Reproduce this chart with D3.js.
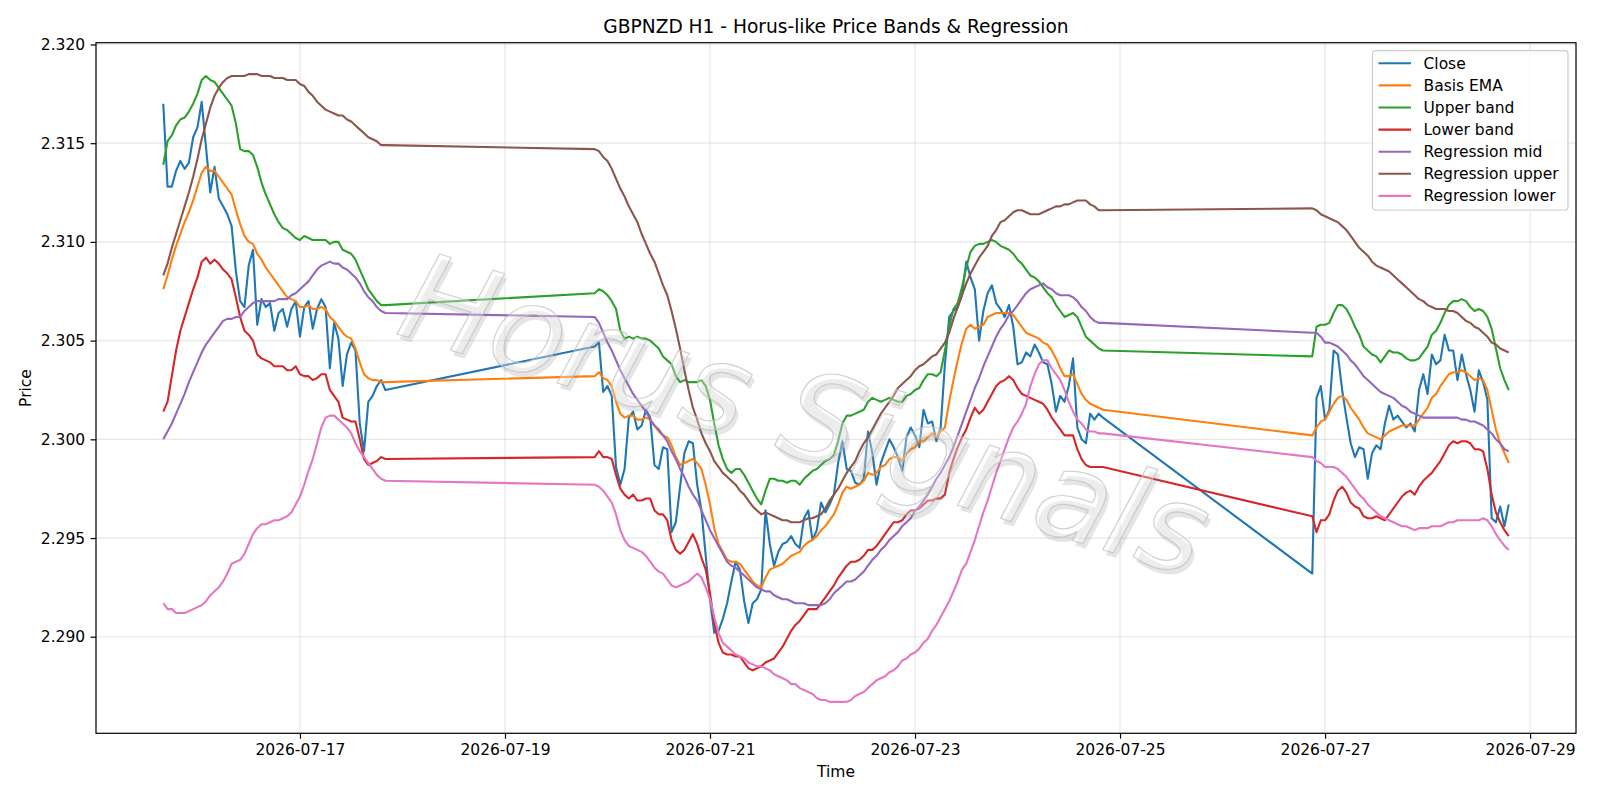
<!DOCTYPE html>
<html>
<head>
<meta charset="utf-8">
<script src="https://cdn.jsdelivr.net/npm/d3@7"></script>
<style>
  body { margin: 0; background: #fff; }
  text { font-family: "DejaVu Sans", sans-serif; }
</style>
</head>
<body>
<div id="my_dataviz"></div>
<script>
// hourly bars, three trading blocks (weekends are skipped)
var segStarts = ["2026-07-15T16:00:00Z", "2026-07-19T21:00:00Z", "2026-07-26T21:00:00Z"];
var segLengths = [53, 120, 47];

var closeVals = [
  2.3170, 2.3128, 2.3128, 2.3136, 2.3141, 2.3137, 2.3140, 2.3153, 2.3158, 2.3171,
  2.3148, 2.3125, 2.3138, 2.3122, 2.3118, 2.3114, 2.3108, 2.3085, 2.3070, 2.3067,
  2.3088, 2.3096, 2.3058, 2.3071, 2.3067, 2.3069, 2.3055, 2.3064, 2.3066, 2.3057,
  2.3066, 2.3070, 2.3052, 2.3067, 2.3070, 2.3056, 2.3066, 2.3071, 2.3067, 2.3036,
  2.3059, 2.3051, 2.3027, 2.3043, 2.3049, 2.3045, 2.3008, 2.2994, 2.3019, 2.3022,
  2.3027, 2.3030, 2.3025,
  2.3047, 2.3049, 2.3024, 2.3027, 2.3022, 2.2986, 2.2977, 2.2985, 2.3011, 2.3014,
  2.3005, 2.3007, 2.3015, 2.3011, 2.2987, 2.2985, 2.2996, 2.2995, 2.2953, 2.2958,
  2.2976, 2.2993, 2.2999, 2.2998, 2.2977, 2.2964, 2.2941, 2.2919, 2.2902, 2.2903,
  2.2909, 2.2917, 2.2928, 2.2938, 2.2934, 2.2918, 2.2907, 2.2917, 2.2919, 2.2924,
  2.2964, 2.2947, 2.2936, 2.2943, 2.2947, 2.2948, 2.2951, 2.2947, 2.2945, 2.2960,
  2.2964, 2.2949, 2.2954, 2.2968, 2.2963, 2.2967, 2.2972, 2.2988, 2.2999, 2.2985,
  2.2984, 2.2978, 2.2977, 2.2980, 2.3004, 2.2993, 2.2977, 2.2988, 2.2994, 2.3000,
  2.2996, 2.2991, 2.2984, 2.3001, 2.3006, 2.3002, 2.2996, 2.3015, 2.3008, 2.3009,
  2.2999, 2.3006, 2.3038, 2.3062, 2.3065, 2.3067, 2.3073, 2.3090, 2.3082, 2.3076,
  2.3050, 2.3065, 2.3074, 2.3078, 2.3069, 2.3066, 2.3062, 2.3068, 2.3057, 2.3038,
  2.3039, 2.3044, 2.3042, 2.3048, 2.3044, 2.3039, 2.3038, 2.3028, 2.3014, 2.3022,
  2.3019, 2.3027, 2.3041, 2.3006, 2.3000, 2.2998, 2.3013, 2.3010, 2.3013, 2.3011,
  2.2932, 2.3021, 2.3027, 2.3010, 2.3015, 2.3045, 2.3043, 2.3025, 2.3011, 2.2998,
  2.2991, 2.2996, 2.2995, 2.2980, 2.2993, 2.2997, 2.2995, 2.3008, 2.3017, 2.3010,
  2.3012, 2.3009, 2.3006, 2.3008, 2.3004, 2.3025, 2.3033, 2.3023, 2.3043, 2.3038,
  2.3040, 2.3053, 2.3045, 2.3045, 2.3030, 2.3043, 2.3033, 2.3025, 2.3014, 2.3035,
  2.3029, 2.3020, 2.2960, 2.2958, 2.2966, 2.2956, 2.2967
];

var basisEma = [
  2.3076, 2.3083, 2.3091, 2.3098, 2.3104, 2.3110, 2.3115, 2.3121, 2.3128, 2.3135,
  2.3138, 2.3136, 2.3136, 2.3133, 2.3130, 2.3127, 2.3124, 2.3116, 2.3109, 2.3103,
  2.3100, 2.3099, 2.3094, 2.3091, 2.3087, 2.3084, 2.3081, 2.3078, 2.3075, 2.3072,
  2.3071, 2.3070, 2.3067, 2.3067, 2.3068, 2.3066, 2.3066, 2.3067, 2.3066, 2.3062,
  2.3060, 2.3057, 2.3054, 2.3052, 2.3051, 2.3046, 2.3039, 2.3033, 2.3031, 2.3030,
  2.3030, 2.3029, 2.3029,
  2.3032, 2.3034, 2.3031, 2.3030, 2.3027, 2.3019, 2.3013, 2.3011, 2.3012, 2.3012,
  2.3010, 2.3010, 2.3011, 2.3010, 2.3007, 2.3004, 2.3002, 2.3001, 2.2997, 2.2991,
  2.2987, 2.2988, 2.2989, 2.2990, 2.2988, 2.2985, 2.2977, 2.2967, 2.2955, 2.2947,
  2.2943, 2.2939, 2.2938, 2.2938, 2.2937, 2.2934, 2.2931, 2.2928, 2.2926, 2.2925,
  2.2930, 2.2934, 2.2935, 2.2936, 2.2937, 2.2939, 2.2941, 2.2942, 2.2943, 2.2946,
  2.2948, 2.2949, 2.2951, 2.2954, 2.2956, 2.2959, 2.2962, 2.2967, 2.2973, 2.2976,
  2.2975, 2.2976, 2.2977, 2.2979, 2.2983, 2.2982, 2.2983, 2.2986, 2.2987, 2.2990,
  2.2991, 2.2991, 2.2989, 2.2993, 2.2995, 2.2996, 2.2999, 2.2999, 2.3001, 2.3003,
  2.3001, 2.3004, 2.3006, 2.3019, 2.3030, 2.3040, 2.3049, 2.3056, 2.3058, 2.3056,
  2.3057, 2.3058, 2.3062, 2.3063, 2.3064, 2.3064, 2.3064, 2.3064, 2.3063, 2.3060,
  2.3057, 2.3054, 2.3053, 2.3052, 2.3051, 2.3049, 2.3048, 2.3045, 2.3041, 2.3036,
  2.3032, 2.3032, 2.3033, 2.3028, 2.3023, 2.3020, 2.3018, 2.3017, 2.3016, 2.3015,
  2.3002, 2.3006, 2.3009, 2.3010, 2.3014, 2.3018, 2.3021, 2.3022, 2.3020, 2.3016,
  2.3013, 2.3010, 2.3006, 2.3003, 2.3002, 2.3001, 2.3000, 2.3002, 2.3004, 2.3005,
  2.3006, 2.3007, 2.3007, 2.3007, 2.3007, 2.3010, 2.3013, 2.3016, 2.3021, 2.3023,
  2.3027, 2.3030, 2.3033, 2.3034, 2.3034, 2.3035, 2.3034, 2.3032, 2.3030, 2.3031,
  2.3030, 2.3025, 2.3015, 2.3005, 2.2998, 2.2993, 2.2988
];

var upperBand = [
  2.3139, 2.3151, 2.3154, 2.3159, 2.3162, 2.3163, 2.3166, 2.3170, 2.3175, 2.3182,
  2.3184, 2.3182, 2.3181, 2.3178, 2.3175, 2.3172, 2.3169, 2.3160, 2.3147, 2.3146,
  2.3146, 2.3144, 2.3138, 2.3130, 2.3124, 2.3119, 2.3114, 2.3110, 2.3107, 2.3106,
  2.3104, 2.3102, 2.3101, 2.3103, 2.3102, 2.3101, 2.3101, 2.3101, 2.3101, 2.3099,
  2.3100, 2.3100, 2.3096, 2.3095, 2.3094, 2.3091, 2.3086, 2.3081, 2.3076, 2.3073,
  2.3070, 2.3068, 2.3068,
  2.3074, 2.3076, 2.3075, 2.3073, 2.3070, 2.3066, 2.3055, 2.3051, 2.3052, 2.3051,
  2.3052, 2.3051, 2.3051, 2.3050, 2.3048, 2.3046, 2.3042, 2.3040, 2.3038, 2.3032,
  2.3029, 2.3030, 2.3029, 2.3029, 2.3029, 2.3030, 2.3027, 2.3020, 2.3008, 2.2997,
  2.2990, 2.2985, 2.2983, 2.2985, 2.2985, 2.2982, 2.2978, 2.2974, 2.2970, 2.2967,
  2.2974, 2.2980, 2.2980, 2.2979, 2.2979, 2.2978, 2.2979, 2.2979, 2.2977, 2.2980,
  2.2982, 2.2984, 2.2985, 2.2987, 2.2989, 2.2990, 2.2992, 2.2999, 2.3008, 2.3012,
  2.3012, 2.3013, 2.3014, 2.3015, 2.3019, 2.3021, 2.3020, 2.3019, 2.3020, 2.3021,
  2.3020, 2.3019, 2.3019, 2.3022, 2.3023, 2.3025, 2.3026, 2.3030, 2.3033, 2.3033,
  2.3032, 2.3034, 2.3045, 2.3057, 2.3066, 2.3069, 2.3077, 2.3087, 2.3095, 2.3098,
  2.3099, 2.3099, 2.3100, 2.3101, 2.3100, 2.3098, 2.3097, 2.3096, 2.3094, 2.3091,
  2.3089, 2.3086, 2.3083, 2.3082, 2.3080, 2.3077, 2.3074, 2.3072, 2.3068, 2.3065,
  2.3062, 2.3063, 2.3064, 2.3062, 2.3057, 2.3052, 2.3050, 2.3048, 2.3046, 2.3045,
  2.3042, 2.3057, 2.3058, 2.3058, 2.3059, 2.3064, 2.3068, 2.3068, 2.3066, 2.3062,
  2.3057, 2.3053, 2.3047, 2.3045, 2.3043, 2.3042, 2.3039, 2.3042, 2.3045, 2.3044,
  2.3044, 2.3043, 2.3041, 2.3040, 2.3040, 2.3041, 2.3044, 2.3047, 2.3053, 2.3055,
  2.3059, 2.3064, 2.3068, 2.3070, 2.3070, 2.3071, 2.3070, 2.3067, 2.3065, 2.3066,
  2.3065, 2.3062, 2.3056, 2.3046, 2.3036, 2.3030, 2.3025
];

var lowerBand = [
  2.3014, 2.3019, 2.3032, 2.3045, 2.3055, 2.3062, 2.3069, 2.3076, 2.3082, 2.3090,
  2.3092, 2.3089, 2.3091, 2.3089, 2.3086, 2.3084, 2.3081, 2.3072, 2.3062, 2.3055,
  2.3053, 2.3050, 2.3043, 2.3041, 2.3040, 2.3039, 2.3037, 2.3037, 2.3037, 2.3035,
  2.3035, 2.3037, 2.3033, 2.3032, 2.3032, 2.3030, 2.3031, 2.3033, 2.3033, 2.3025,
  2.3022, 2.3019, 2.3011, 2.3010, 2.3009, 2.3009, 2.3000, 2.2990, 2.2987, 2.2988,
  2.2989, 2.2991, 2.2990,
  2.2991, 2.2994, 2.2991, 2.2991, 2.2990, 2.2982, 2.2975, 2.2972, 2.2970, 2.2972,
  2.2969, 2.2969, 2.2970, 2.2970, 2.2964, 2.2962, 2.2962, 2.2959, 2.2949, 2.2944,
  2.2942, 2.2944, 2.2948, 2.2952, 2.2947, 2.2940, 2.2934, 2.2922, 2.2907, 2.2897,
  2.2892, 2.2891, 2.2891, 2.2890, 2.2890, 2.2887, 2.2884, 2.2883, 2.2884, 2.2885,
  2.2887, 2.2888, 2.2889, 2.2892, 2.2895, 2.2899, 2.2903, 2.2906, 2.2908, 2.2911,
  2.2914, 2.2914, 2.2914, 2.2917, 2.2920, 2.2923, 2.2926, 2.2930, 2.2933, 2.2936,
  2.2938, 2.2938, 2.2939, 2.2941, 2.2944, 2.2944, 2.2946, 2.2949, 2.2952, 2.2955,
  2.2958, 2.2958, 2.2959, 2.2962, 2.2964, 2.2964, 2.2965, 2.2967, 2.2969, 2.2969,
  2.2970, 2.2970, 2.2972, 2.2983, 2.2990, 2.2996, 2.3001, 2.3005, 2.3011, 2.3016,
  2.3013, 2.3015, 2.3019, 2.3023, 2.3027, 2.3029, 2.3030, 2.3032, 2.3030, 2.3026,
  2.3023, 2.3022, 2.3021, 2.3020, 2.3019, 2.3018, 2.3015, 2.3011, 2.3008, 2.3005,
  2.3002, 2.3002, 2.3002, 2.2995, 2.2990, 2.2987, 2.2986, 2.2986, 2.2986, 2.2986,
  2.2961, 2.2953, 2.2959, 2.2959, 2.2962, 2.2969, 2.2974, 2.2976, 2.2973, 2.2968,
  2.2966, 2.2965, 2.2961, 2.2960, 2.2960, 2.2961, 2.2960, 2.2959, 2.2962, 2.2965,
  2.2968, 2.2971, 2.2973, 2.2974, 2.2972, 2.2976, 2.2979, 2.2981, 2.2983, 2.2986,
  2.2989, 2.2993, 2.2997, 2.2999, 2.2998, 2.2999, 2.2999, 2.2998, 2.2995, 2.2995,
  2.2994, 2.2985, 2.2972, 2.2963, 2.2958, 2.2954, 2.2951
];

var regMid = [
  2.3000, 2.3004, 2.3008, 2.3013, 2.3018, 2.3023, 2.3029, 2.3034, 2.3039, 2.3044,
  2.3048, 2.3051, 2.3054, 2.3057, 2.3060, 2.3061, 2.3061, 2.3062, 2.3062, 2.3065,
  2.3067, 2.3069, 2.3070, 2.3070, 2.3070, 2.3070, 2.3070, 2.3071, 2.3071, 2.3071,
  2.3073, 2.3074, 2.3076, 2.3078, 2.3080, 2.3083, 2.3086, 2.3088, 2.3089, 2.3090,
  2.3089, 2.3089, 2.3087, 2.3086, 2.3084, 2.3082, 2.3079, 2.3075, 2.3072, 2.3070,
  2.3067, 2.3065, 2.3064,
  2.3062, 2.3059, 2.3054, 2.3049, 2.3045, 2.3040, 2.3035, 2.3031, 2.3027, 2.3023,
  2.3020, 2.3017, 2.3014, 2.3010, 2.3007, 2.3005, 2.3002, 2.2999, 2.2994, 2.2990,
  2.2985, 2.2981, 2.2976, 2.2972, 2.2969, 2.2964, 2.2959, 2.2954, 2.2950, 2.2946,
  2.2942, 2.2938, 2.2936, 2.2935, 2.2933, 2.2931, 2.2929, 2.2927, 2.2925, 2.2924,
  2.2923, 2.2923, 2.2921, 2.2920, 2.2919, 2.2919, 2.2918, 2.2917, 2.2917, 2.2917,
  2.2916, 2.2916, 2.2916, 2.2916, 2.2917, 2.2919, 2.2922, 2.2924, 2.2926, 2.2928,
  2.2928, 2.2929, 2.2931, 2.2933, 2.2936, 2.2939, 2.2941, 2.2944, 2.2946, 2.2949,
  2.2951, 2.2953, 2.2956, 2.2958, 2.2960, 2.2964, 2.2966, 2.2969, 2.2972, 2.2976,
  2.2980, 2.2983, 2.2987, 2.2991, 2.2996, 2.3002, 2.3008, 2.3014, 2.3020, 2.3026,
  2.3031, 2.3037, 2.3042, 2.3047, 2.3052, 2.3056, 2.3059, 2.3063, 2.3065, 2.3068,
  2.3071, 2.3074, 2.3076, 2.3077, 2.3078, 2.3079, 2.3077, 2.3076, 2.3074, 2.3073,
  2.3073, 2.3073, 2.3072, 2.3070, 2.3067, 2.3065, 2.3062, 2.3060, 2.3059, 2.3059,
  2.3054, 2.3054, 2.3052, 2.3049, 2.3049, 2.3048, 2.3047, 2.3045, 2.3043, 2.3040,
  2.3038, 2.3035, 2.3032, 2.3030, 2.3028, 2.3026, 2.3024, 2.3023, 2.3022, 2.3021,
  2.3019, 2.3017, 2.3016, 2.3014, 2.3013, 2.3012, 2.3011, 2.3011, 2.3011, 2.3011,
  2.3011, 2.3011, 2.3011, 2.3011, 2.3011, 2.3010, 2.3010, 2.3009, 2.3009, 2.3008,
  2.3007, 2.3005, 2.3003, 2.3000, 2.2998, 2.2995, 2.2994
];

var regUpper = [
  2.3083, 2.3089, 2.3097, 2.3104, 2.3111, 2.3118, 2.3125, 2.3133, 2.3142, 2.3152,
  2.3160, 2.3168, 2.3174, 2.3178, 2.3181, 2.3183, 2.3184, 2.3184, 2.3184, 2.3184,
  2.3185, 2.3185, 2.3185, 2.3184, 2.3184, 2.3184, 2.3183, 2.3183, 2.3183, 2.3182,
  2.3182, 2.3182, 2.3180, 2.3179, 2.3176, 2.3174, 2.3171, 2.3169, 2.3167, 2.3166,
  2.3165, 2.3164, 2.3164, 2.3162, 2.3161, 2.3159, 2.3157, 2.3155, 2.3153, 2.3152,
  2.3151, 2.3149, 2.3149,
  2.3147, 2.3146, 2.3143, 2.3141, 2.3137, 2.3132, 2.3127, 2.3123, 2.3118, 2.3114,
  2.3110, 2.3104, 2.3099, 2.3094, 2.3090, 2.3084, 2.3078, 2.3073, 2.3065, 2.3056,
  2.3046, 2.3035, 2.3025, 2.3016, 2.3010, 2.3003, 2.2998, 2.2994, 2.2989, 2.2986,
  2.2983, 2.2981, 2.2979, 2.2977, 2.2974, 2.2972, 2.2969, 2.2966, 2.2964, 2.2962,
  2.2963, 2.2962, 2.2961, 2.2960, 2.2959, 2.2959, 2.2958, 2.2958, 2.2958, 2.2959,
  2.2960, 2.2960, 2.2961, 2.2962, 2.2965, 2.2969, 2.2972, 2.2975, 2.2979, 2.2983,
  2.2986, 2.2989, 2.2994, 2.2998, 2.3001, 2.3005, 2.3009, 2.3013, 2.3016, 2.3019,
  2.3022, 2.3026, 2.3028, 2.3030, 2.3032, 2.3035, 2.3037, 2.3038, 2.3040, 2.3042,
  2.3043, 2.3046, 2.3049, 2.3054, 2.3061, 2.3067, 2.3073, 2.3079, 2.3084, 2.3088,
  2.3092, 2.3095, 2.3098, 2.3103, 2.3106, 2.3110, 2.3111, 2.3113, 2.3115, 2.3116,
  2.3116, 2.3115, 2.3114, 2.3114, 2.3114, 2.3115, 2.3116, 2.3117, 2.3118, 2.3118,
  2.3119, 2.3119, 2.3120, 2.3121, 2.3121, 2.3121, 2.3119, 2.3118, 2.3116, 2.3116,
  2.3117, 2.3116, 2.3114, 2.3113, 2.3112, 2.3111, 2.3110, 2.3108, 2.3106, 2.3103,
  2.3100, 2.3097, 2.3095, 2.3093, 2.3090, 2.3088, 2.3087, 2.3086, 2.3085, 2.3083,
  2.3081, 2.3079, 2.3077, 2.3075, 2.3073, 2.3071, 2.3070, 2.3068, 2.3067, 2.3066,
  2.3066, 2.3066, 2.3065, 2.3065, 2.3064, 2.3062, 2.3060, 2.3059, 2.3057, 2.3056,
  2.3054, 2.3052, 2.3049, 2.3048, 2.3046, 2.3045, 2.3044
];

var regLower = [
  2.2917, 2.2914, 2.2914, 2.2912, 2.2912, 2.2912, 2.2913, 2.2914, 2.2915, 2.2916,
  2.2918, 2.2921, 2.2923, 2.2925, 2.2928, 2.2932, 2.2937, 2.2938, 2.2939, 2.2942,
  2.2947, 2.2952, 2.2955, 2.2957, 2.2957, 2.2958, 2.2959, 2.2959, 2.2960, 2.2961,
  2.2963, 2.2967, 2.2971, 2.2977, 2.2984, 2.2990, 2.2998, 2.3006, 2.3011, 2.3012,
  2.3012, 2.3010, 2.3008, 2.3006, 2.3003, 2.2998, 2.2994, 2.2991, 2.2988, 2.2985,
  2.2982, 2.2980, 2.2979,
  2.2977, 2.2976, 2.2974, 2.2971, 2.2968, 2.2962, 2.2954, 2.2949, 2.2946, 2.2945,
  2.2944, 2.2943, 2.2941, 2.2938, 2.2935, 2.2933, 2.2932, 2.2929, 2.2926, 2.2925,
  2.2926, 2.2927, 2.2928, 2.2930, 2.2932, 2.2930, 2.2925, 2.2919, 2.2910, 2.2902,
  2.2897, 2.2895, 2.2893, 2.2891, 2.2890, 2.2889, 2.2887, 2.2886, 2.2885, 2.2885,
  2.2884, 2.2883, 2.2881, 2.2880, 2.2879, 2.2878, 2.2876, 2.2876, 2.2874, 2.2873,
  2.2872, 2.2871, 2.2869, 2.2868, 2.2868, 2.2867, 2.2867, 2.2867, 2.2867, 2.2867,
  2.2868, 2.2870, 2.2871, 2.2872, 2.2874, 2.2876, 2.2878, 2.2879, 2.2880, 2.2882,
  2.2883, 2.2885, 2.2888, 2.2889, 2.2891, 2.2892, 2.2894, 2.2897, 2.2899, 2.2903,
  2.2906, 2.2910, 2.2914, 2.2918, 2.2923, 2.2928, 2.2934, 2.2937, 2.2943, 2.2949,
  2.2956, 2.2963, 2.2969, 2.2976, 2.2983, 2.2989, 2.2995, 2.3001, 2.3006, 2.3009,
  2.3013, 2.3018, 2.3027, 2.3033, 2.3038, 2.3040, 2.3040, 2.3036, 2.3033, 2.3030,
  2.3025, 2.3019, 2.3014, 2.3010, 2.3008, 2.3005, 2.3004, 2.3004, 2.3003, 2.3003,
  2.2991, 2.2989, 2.2988, 2.2986, 2.2986, 2.2986, 2.2985, 2.2983, 2.2981, 2.2978,
  2.2975, 2.2972, 2.2970, 2.2967, 2.2965, 2.2963, 2.2961, 2.2960, 2.2959, 2.2958,
  2.2957, 2.2956, 2.2956, 2.2955, 2.2954, 2.2955, 2.2955, 2.2955, 2.2956, 2.2956,
  2.2956, 2.2957, 2.2958, 2.2958, 2.2959, 2.2959, 2.2959, 2.2959, 2.2959, 2.2959,
  2.2960, 2.2959, 2.2956, 2.2952, 2.2949, 2.2946, 2.2944
];

var seriesNames = ["Close", "Basis EMA", "Upper band", "Lower band", "Regression mid", "Regression upper", "Regression lower"];
var seriesColors = ["#1f77b4", "#ff7f0e", "#2ca02c", "#d62728", "#9467bd", "#8c564b", "#e377c2"];
var yTickValues = [2.290, 2.295, 2.300, 2.305, 2.310, 2.315, 2.320];
var xTickDates = ["2026-07-17", "2026-07-19", "2026-07-21", "2026-07-23", "2026-07-25", "2026-07-27", "2026-07-29"];

var W = 1600, H = 800;
var margin = {top: 42.7, right: 24, bottom: 66.7, left: 96},
width = W - margin.left - margin.right,
height = H - margin.top - margin.bottom;

// time of every bar
var times = [];
segStarts.forEach(function(s, k) {
  var t0 = new Date(s);
  for (var i = 0; i < segLengths[k]; i++) times.push(d3.utcHour.offset(t0, i));
});

var allSeries = [closeVals, basisEma, upperBand, lowerBand, regMid, regUpper, regLower];

var svg = d3.select("#my_dataviz")
.append("svg")
.attr("width", W)
.attr("height", H);

var g = svg.append("g")
.attr("transform", "translate(" + margin.left + "," + margin.top + ")");

// matplotlib style 5% margins
var tExt = d3.extent(times);
var tPad = (tExt[1] - tExt[0]) * 0.05;
var x = d3.scaleUtc()
.domain([new Date(+tExt[0] - tPad), new Date(+tExt[1] + tPad)])
.range([0, width]);

var yMin = d3.min(allSeries, function(s) { return d3.min(s); }),
    yMax = d3.max(allSeries, function(s) { return d3.max(s); });
var yPad = (yMax - yMin) * 0.05;
var y = d3.scaleLinear()
.domain([yMin - yPad, yMax + yPad])
.range([height, 0]);

var xTicks = xTickDates.map(function(d) { return new Date(d + "T00:00:00Z"); });

// grid
g.append("g").selectAll("line.gx")
.data(xTicks)
.enter().append("line")
.attr("x1", function(d) { return x(d); })
.attr("x2", function(d) { return x(d); })
.attr("y1", 0).attr("y2", height)
.attr("stroke", "#b0b0b0").attr("stroke-opacity", 0.3).attr("stroke-width", 1.2);

g.append("g").selectAll("line.gy")
.data(yTickValues)
.enter().append("line")
.attr("x1", 0).attr("x2", width)
.attr("y1", function(d) { return y(d); })
.attr("y2", function(d) { return y(d); })
.attr("stroke", "#b0b0b0").attr("stroke-opacity", 0.3).attr("stroke-width", 1.2);

// lines
var line = d3.line()
.x(function(d) { return x(d[0]); })
.y(function(d) { return y(d[1]); });

allSeries.forEach(function(s, k) {
  g.append("path")
  .datum(times.map(function(t, i) { return [t, s[i]]; }))
  .attr("fill", "none")
  .attr("stroke", seriesColors[k])
  .attr("stroke-width", 2.1)
  .attr("stroke-linejoin", "round")
  .attr("d", line);
});

// watermark, drawn over the lines but mostly see-through
var wm = g.append("g")
.attr("transform", "translate(" + (793 - margin.left) + "," + (455 - margin.top) + ") rotate(17)");
wm.append("text")
.attr("text-anchor", "middle")
.attr("x", 4).attr("y", 4)
.style("font-size", "122px").style("font-style", "italic")
.attr("fill", "#8a8a8a").attr("fill-opacity", 0.22)
.text("Horus Signals");
wm.append("text")
.attr("text-anchor", "middle")
.style("font-size", "122px").style("font-style", "italic")
.attr("fill", "#ffffff").attr("fill-opacity", 0.3)
.attr("stroke", "#bdbdbd").attr("stroke-width", 1.2).attr("stroke-opacity", 0.7)
.text("Horus Signals");

// axes
var xAxis = g.append("g")
.attr("transform", "translate(0," + height + ")")
.call(d3.axisBottom(x).tickValues(xTicks).tickFormat(d3.utcFormat("%Y-%m-%d")).tickSize(5.4).tickPadding(5.4).tickSizeOuter(0));

var yAxis = g.append("g")
.call(d3.axisLeft(y).tickValues(yTickValues).tickFormat(d3.format(".3f")).tickSize(5.4).tickPadding(5.4).tickSizeOuter(0));

[xAxis, yAxis].forEach(function(a) {
  a.select(".domain").remove();
  a.selectAll("line").attr("stroke", "#000").attr("stroke-width", 1.2);
  a.selectAll("text").attr("fill", "#000").style("font-size", "15.5px").style("font-family", "DejaVu Sans");
});

g.append("rect")
.attr("width", width).attr("height", height)
.attr("fill", "none").attr("stroke", "#000").attr("stroke-width", 1.2);

// titles
svg.append("text")
.attr("x", margin.left + width / 2).attr("y", 33)
.attr("text-anchor", "middle")
.style("font-size", "18.6px")
.text("GBPNZD H1 - Horus-like Price Bands & Regression");

svg.append("text")
.attr("x", margin.left + width / 2).attr("y", 777)
.attr("text-anchor", "middle")
.style("font-size", "15.5px")
.text("Time");

svg.append("text")
.attr("transform", "translate(31," + (margin.top + height / 2) + ") rotate(-90)")
.attr("text-anchor", "middle")
.style("font-size", "15.5px")
.text("Price");

// legend
var lg = svg.append("g").attr("transform", "translate(1372.5,50.7)");
lg.append("rect")
.attr("width", 195.5).attr("height", 159.3)
.attr("rx", 3).attr("ry", 3)
.attr("fill", "#fff").attr("fill-opacity", 0.8)
.attr("stroke", "#cccccc").attr("stroke-width", 1.2);

var item = lg.selectAll("g.item")
.data(seriesNames)
.enter().append("g")
.attr("transform", function(d, i) { return "translate(0," + (12.6 + i * 22.1) + ")"; });

item.append("line")
.attr("x1", 6).attr("x2", 38.5)
.attr("stroke", function(d, i) { return seriesColors[i]; })
.attr("stroke-width", 2.1);

item.append("text")
.attr("x", 51).attr("y", 5.5)
.style("font-size", "15.5px")
.text(function(d) { return d; });
</script>
</body>
</html>
